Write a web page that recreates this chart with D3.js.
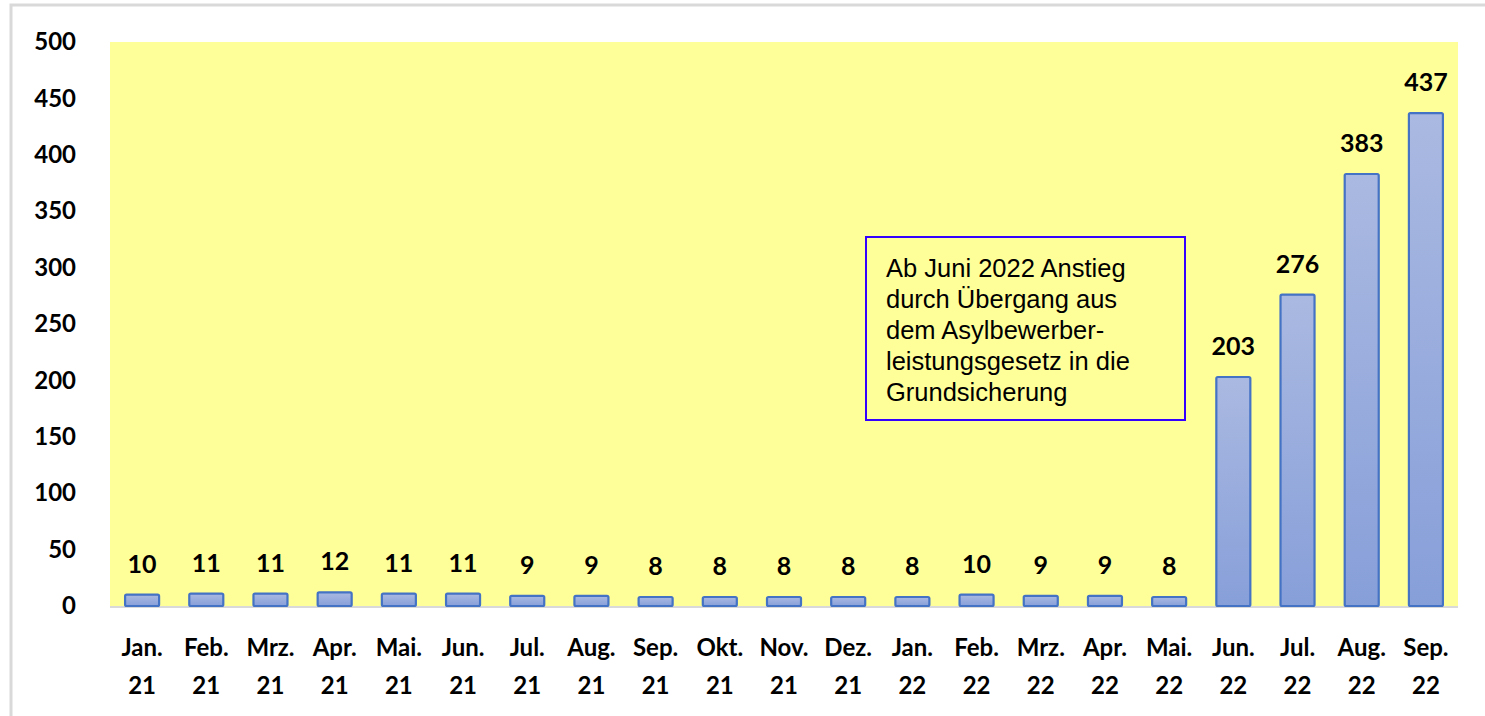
<!DOCTYPE html>
<html>
<head>
<meta charset="utf-8">
<script src="https://cdn.jsdelivr.net/npm/d3@7"></script>
<style>
  body { margin: 0; background: #fff; }
  svg { display: block; }
</style>
</head>
<body>
<svg id="chart"></svg>
<script>
'use strict'

const MONTHS = ['Jan.', 'Feb.', 'Mrz.', 'Apr.', 'Mai.', 'Jun.', 'Jul.', 'Aug.', 'Sep.', 'Okt.', 'Nov.', 'Dez.',
	'Jan.', 'Feb.', 'Mrz.', 'Apr.', 'Mai.', 'Jun.', 'Jul.', 'Aug.', 'Sep.'];
const YEARS = ['21', '21', '21', '21', '21', '21', '21', '21', '21', '21', '21', '21',
	'22', '22', '22', '22', '22', '22', '22', '22', '22'];
const VALUES = [10, 11, 11, 12, 11, 11, 9, 9, 8, 8, 8, 8, 8, 10, 9, 9, 8, 203, 276, 383, 437];
const Y_TICKS = [0, 50, 100, 150, 200, 250, 300, 350, 400, 450, 500];
const NOTE_LINES = [
	'Ab Juni 2022 Anstieg',
	'durch Übergang aus',
	'dem Asylbewerber-',
	'leistungsgesetz in die',
	'Grundsicherung'
];

var width = 1485;
var height = 716;
var plot = { left: 110, right: 1458, top: 42, bottom: 606 };
var labelFont = 'Lato, "Open Sans", sans-serif';

var svg = d3.select('#chart')
	.attr('width', width)
	.attr('height', height);

// outer frame
svg.append('path')
	.attr('d', 'M11,' + height + 'V5H' + width)
	.attr('fill', 'none')
	.attr('stroke', '#d9d9d9')
	.attr('stroke-width', 3);

var keys = d3.range(VALUES.length);

var x = d3.scaleBand()
	.domain(keys)
	.range([plot.left, plot.right])
	.paddingInner(0.47)
	.paddingOuter(0.235);

var y = d3.scaleLinear()
	.domain([0, 500])
	.range([plot.bottom, plot.top]);

// plot background
svg.append('rect')
	.attr('x', plot.left)
	.attr('y', plot.top)
	.attr('width', plot.right - plot.left)
	.attr('height', plot.bottom - plot.top)
	.attr('fill', '#ffff99');

var defs = svg.append('defs');
var grad = defs.append('linearGradient')
	.attr('id', 'barGrad')
	.attr('x1', 0).attr('y1', 0)
	.attr('x2', 0).attr('y2', 1);
grad.append('stop').attr('offset', '0%').attr('stop-color', '#aab9e1');
grad.append('stop').attr('offset', '100%').attr('stop-color', '#879fd9');

// bottom axis line
svg.append('line')
	.attr('x1', plot.left)
	.attr('x2', plot.right)
	.attr('y1', y(0) + 1)
	.attr('y2', y(0) + 1)
	.attr('stroke', '#d9d9d9')
	.attr('stroke-width', 2);

// y axis labels
var yAxis = svg.append('g')
	.attr('transform', 'translate(' + 76 + ',0)')
	.call(d3.axisLeft(y).tickValues(Y_TICKS).tickSize(0).tickPadding(0));
yAxis.select('.domain').remove();
yAxis.selectAll('text')
	.style('font-family', labelFont)
	.style('font-size', '24px')
	.style('font-weight', 'bold')
	.attr('fill', '#000');

// bars
svg.append('g')
	.selectAll('rect')
	.data(keys)
	.enter()
	.append('rect')
	.attr('x', function(d) { return x(d); })
	.attr('y', function(d) { return y(VALUES[d]); })
	.attr('width', x.bandwidth())
	.attr('height', function(d) { return y(0) - y(VALUES[d]); })
	.attr('rx', 1.5)
	.attr('fill', 'url(#barGrad)')
	.attr('stroke', '#4472c4')
	.attr('stroke-width', 2.2);

// value labels
svg.append('g')
	.selectAll('text')
	.data(keys)
	.enter()
	.append('text')
	.attr('x', function(d) { return x(d) + x.bandwidth() / 2; })
	.attr('y', function(d) { return y(VALUES[d]) - 22; })
	.attr('text-anchor', 'middle')
	.style('font-family', labelFont)
	.style('font-size', '25px')
	.style('font-weight', 'bold')
	.text(function(d) { return VALUES[d]; });

// x labels, two lines
var xl = svg.append('g')
	.selectAll('text')
	.data(keys)
	.enter()
	.append('text')
	.attr('text-anchor', 'middle')
	.style('font-family', labelFont)
	.style('font-size', '24px')
	.style('font-weight', 'bold');
xl.append('tspan')
	.attr('x', function(d) { return x(d) + x.bandwidth() / 2; })
	.attr('y', 656)
	.text(function(d) { return MONTHS[d]; });
xl.append('tspan')
	.attr('x', function(d) { return x(d) + x.bandwidth() / 2; })
	.attr('y', 694)
	.text(function(d) { return YEARS[d]; });

// annotation box
var note = svg.append('g')
	.attr('transform', 'translate(866,237)');
note.append('rect')
	.attr('width', 319)
	.attr('height', 183)
	.attr('fill', '#ffff99')
	.attr('stroke', '#3300ff')
	.attr('stroke-width', 2);
note.append('g')
	.selectAll('text')
	.data(NOTE_LINES)
	.enter()
	.append('text')
	.attr('x', 20)
	.attr('y', function(d, i) { return 40 + i * 31; })
	.style('font-family', '"Liberation Sans", Arial, sans-serif')
	.style('font-size', '25.5px')
	.text(function(d) { return d; });
</script>
</body>
</html>
